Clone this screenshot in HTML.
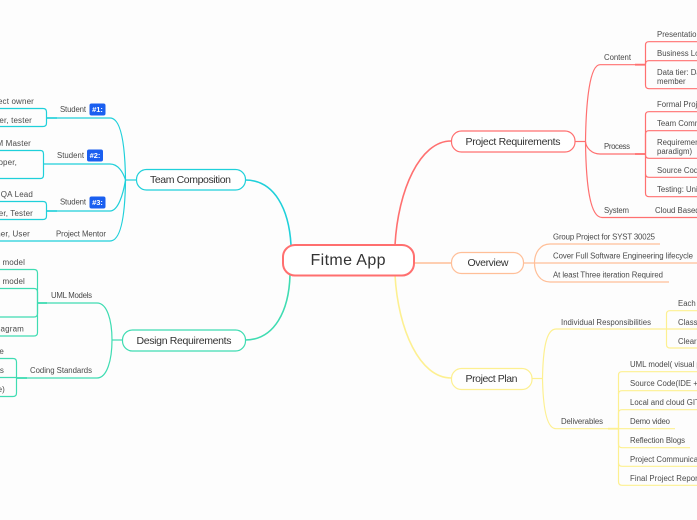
<!DOCTYPE html>
<html><head><meta charset="utf-8"><style>
html,body{margin:0;padding:0;background:#fdfdfd;width:697px;height:520px;overflow:hidden}
svg{display:block}
text{font-family:"Liberation Sans",sans-serif;font-size:7.8px;fill:#4a4a4a;dominant-baseline:central}
.e{text-anchor:end;font-size:8px;letter-spacing:.15px}
.m{text-anchor:middle;font-size:10.5px;fill:#333}
.b{text-anchor:middle;font-size:7.5px;fill:#fff;font-weight:bold}
path,rect{fill:none;stroke-width:1.2}
.t{stroke:#1fd0da}.g{stroke:#3fdcb2}.r{stroke:#ff7070}.o{stroke:#ffbf98}.y{stroke:#fdf091}
</style></head><body>
<svg width="697" height="520" viewBox="0 0 697 520" xmlns="http://www.w3.org/2000/svg">
<rect width="697" height="520" style="fill:#fdfdfd;stroke:none"/>
<!-- central connectors -->
<path d="M291 245C289 210 275 180 245 180" class="t" style="stroke-width:1.6"/>
<path d="M290 275C289 310 275 340 245 340" class="g" style="stroke-width:1.6"/>
<path d="M395 245C398 190 420 141 451 141" class="r" style="stroke-width:1.6"/>
<path d="M415 263H451" class="o" style="stroke-width:1.6"/>
<path d="M395 275C398 330 420 378 451 378" class="y" style="stroke-width:1.6"/>

<!-- Team Composition -->
<g>
<path class="t" d="M136 180H126"/>
<path class="t" d="M47 118H110C120 118 125 140 125.500 180C125 220 120 241 110 241H0"/>
<path class="t" d="M44 164H110C118 164 123 172 125.500 180C123 195 118 211 110 211H47"/>
<path class="t" d="M0 108.500H43Q46.500 108.500 46.500 112V123Q46.500 126.500 43 126.500H0"/>
<path class="t" d="M0 150.500H40.500Q43.500 150.500 43.500 154V175Q43.500 178.500 40.500 178.500H0"/>
<path class="t" d="M0 201.500H43Q46.500 201.500 46.500 205V216Q46.500 219.500 43 219.500H0"/>
<path class="t" d="M47 118H57M47 211H57" style="stroke-width:1.800;opacity:.7"/>
</g>
<!-- Design Requirements -->
<g>
<path class="g" d="M122 340H112"/>
<path class="g" d="M37 303H97C107 303 112 320 112 340C112 360 107 378 97 378H17"/>
<path class="g" d="M0 269.500H34Q37.500 269.500 37.500 273V332.500Q37.500 336 34 336H0"/>
<path class="g" d="M0 288.500H34Q37.500 288.500 37.500 292V313.500Q37.500 317 34 317H0"/>
<path class="g" d="M0 358.500H13Q16.500 358.500 16.500 362V393Q16.500 396.500 13 396.500H0"/>
<path class="g" d="M0 377.500H17"/>
<path class="g" d="M37 303H47M17 378H27" style="stroke-width:1.800"/>
</g>
<!-- Project Requirements -->
<g>
<path class="r" d="M575 141.500H585.500"/>
<path class="r" d="M645 64.700H600C590 64.700 586 100 585.500 141.500C586 185 590 217.500 602 217.500H697"/>
<path class="r" d="M585.500 141.500C586 148 592 154 600 154H645"/>
<path class="r" d="M697 41.700H649Q645.500 41.700 645.500 45V85Q645.500 88.700 649 88.700H697"/>
<path class="r" d="M697 60.700H649Q645.500 60.700 645.500 64"/>
<path class="r" d="M697 111.700H649Q645.500 111.700 645.500 115V193Q645.500 196.700 649 196.700H697"/>
<path class="r" d="M697 130.700H649Q645.500 130.700 645.500 134V155Q645.500 158.300 649 158.300H697"/>
<path class="r" d="M697 177.300H649Q645.500 177.300 645.500 174"/>
<path class="r" d="M635 64.700H645M635 154H645" style="stroke-width:1.800"/>
</g>
<!-- Overview -->
<g>
<path class="o" d="M523 263H697"/>
<path class="o" d="M660 244H550C540 244 534.500 253 534.500 263C534.500 273 540 282 550 282H669"/>
</g>
<!-- Project Plan -->
<g>
<path class="y" d="M532 378.500H542.500"/>
<path class="y" d="M666 329H556C546 329 543 350 542.500 378.500C543 405 546 428.700 556 428.700H618"/>
<path class="y" d="M697 310.700H670Q666.500 310.700 666.500 314V344.500Q666.500 348 670 348H697"/>
<path class="y" d="M666 329H697"/>
<path class="y" d="M697 371.700H622Q618.500 371.700 618.500 375V481.500Q618.500 485.300 622 485.300H697"/>
<path class="y" d="M697 390.700H622Q618.500 390.700 618.500 394"/>
<path class="y" d="M697 409.700H622Q618.500 409.700 618.500 413V444Q618.500 447.700 622 447.700H690"/>
<path class="y" d="M618 428.700H675"/>
<path class="y" d="M697 466.300H622Q618.500 466.300 618.500 463"/>
<path class="y" d="M608 428.700H618" style="stroke-width:1.800"/>
</g>

<!-- boxes -->
<rect x="283" y="245" width="131" height="30.500" rx="12" style="fill:#fff;stroke:#ff6f6f;stroke-width:2"/>
<rect x="136.500" y="169.500" width="109" height="20.500" rx="10" class="t" style="fill:#fff"/>
<rect x="122.500" y="330" width="123" height="21" rx="10" class="g" style="fill:#fff"/>
<rect x="451.500" y="131" width="123.500" height="21" rx="10" class="r" style="fill:#fff"/>
<rect x="451.500" y="252.500" width="72" height="21" rx="10" class="o" style="fill:#fff"/>
<rect x="451.500" y="368.500" width="80.500" height="21" rx="10" class="y" style="fill:#fff"/>

<text x="348" y="260.500" class="m" style="font-size:16px" textLength="75">Fitme App</text>
<text x="190.500" y="180" class="m" textLength="81">Team Composition</text>
<text x="184" y="341" class="m" textLength="95">Design Requirements</text>
<text x="513" y="142" class="m" textLength="95">Project Requirements</text>
<text x="488" y="263" class="m" textLength="41">Overview</text>
<text x="491.500" y="379" class="m" textLength="52">Project Plan</text>

<!-- left labels -->
<text x="60" y="109.500" textLength="26">Student</text>
<rect x="89.500" y="103.500" width="16" height="12" rx="2" style="fill:#1a5ff0"/>
<text x="97.500" y="109.500" class="b">#1:</text>
<text x="57" y="155.500" textLength="27">Student</text>
<rect x="87" y="149.500" width="16" height="12" rx="2" style="fill:#1a5ff0"/>
<text x="95" y="155.500" class="b">#2:</text>
<text x="60" y="202" textLength="26">Student</text>
<rect x="89.500" y="196.500" width="16" height="12" rx="2" style="fill:#1a5ff0"/>
<text x="97.500" y="202.500" class="b">#3:</text>
<text x="56" y="234" textLength="50">Project Mentor</text>
<text x="34" y="101.500" class="e">Project owner</text>
<text x="32" y="120.500" class="e">Developer, tester</text>
<text x="31" y="143.500" class="e">SCRUM Master</text>
<text x="17" y="162.500" class="e">Developer,</text>
<text x="33" y="194.500" class="e">&amp; QA Lead</text>
<text x="33" y="213.500" class="e">Developer, Tester</text>
<text x="30" y="234" class="e">Customer, User</text>

<text x="51" y="295.500" textLength="41">UML Models</text>
<text x="30" y="370.500" textLength="62">Coding Standards</text>
<text x="25" y="262.500" class="e">Use case model</text>
<text x="25" y="281.500" class="e">Domain model</text>
<text x="24" y="329" class="e">Class diagram</text>
<text x="4" y="351.500" class="e">Style guide</text>
<text x="4" y="370.500" class="e">Comments</text>
<text x="5" y="389.500" class="e">(code)</text>

<!-- right labels -->
<text x="604" y="57.500" textLength="27">Content</text>
<text x="604" y="146.500" textLength="26">Process</text>
<text x="604" y="210.500" textLength="25">System</text>
<text x="655" y="210.500">Cloud Based</text>
<text x="657" y="34.500">Presentation tier</text>
<text x="657" y="53.500">Business Logic tier</text>
<text x="657" y="72.500">Data tier: Database</text>
<text x="657" y="81.500">member</text>
<text x="657" y="104.500">Formal Project</text>
<text x="657" y="123.500">Team Communication</text>
<text x="657" y="142.500">Requirements</text>
<text x="657" y="151.500">paradigm)</text>
<text x="657" y="170.500">Source Code</text>
<text x="657" y="189.500">Testing: Unit</text>

<text x="553" y="237" textLength="102">Group Project for SYST 30025</text>
<text x="553" y="256" textLength="140">Cover Full Software Engineering lifecycle</text>
<text x="553" y="275" textLength="110">At least Three iteration Required</text>

<text x="561" y="322.500" textLength="90">Individual Responsibilities</text>
<text x="561" y="421.500" textLength="42">Deliverables</text>
<text x="678" y="303.500">Each Unit</text>
<text x="678" y="322.500">Class</text>
<text x="678" y="341.500">Clear</text>
<text x="630" y="364.500">UML model( visual paradigm)</text>
<text x="630" y="383.500">Source Code(IDE + tools)</text>
<text x="630" y="402.500">Local and cloud GIT repo</text>
<text x="630" y="421.500" textLength="40">Demo video</text>
<text x="630" y="440.500" textLength="55">Reflection Blogs</text>
<text x="630" y="459.500">Project Communication</text>
<text x="630" y="478.500" textLength="70">Final Project Report</text>
</svg>
</body></html>
